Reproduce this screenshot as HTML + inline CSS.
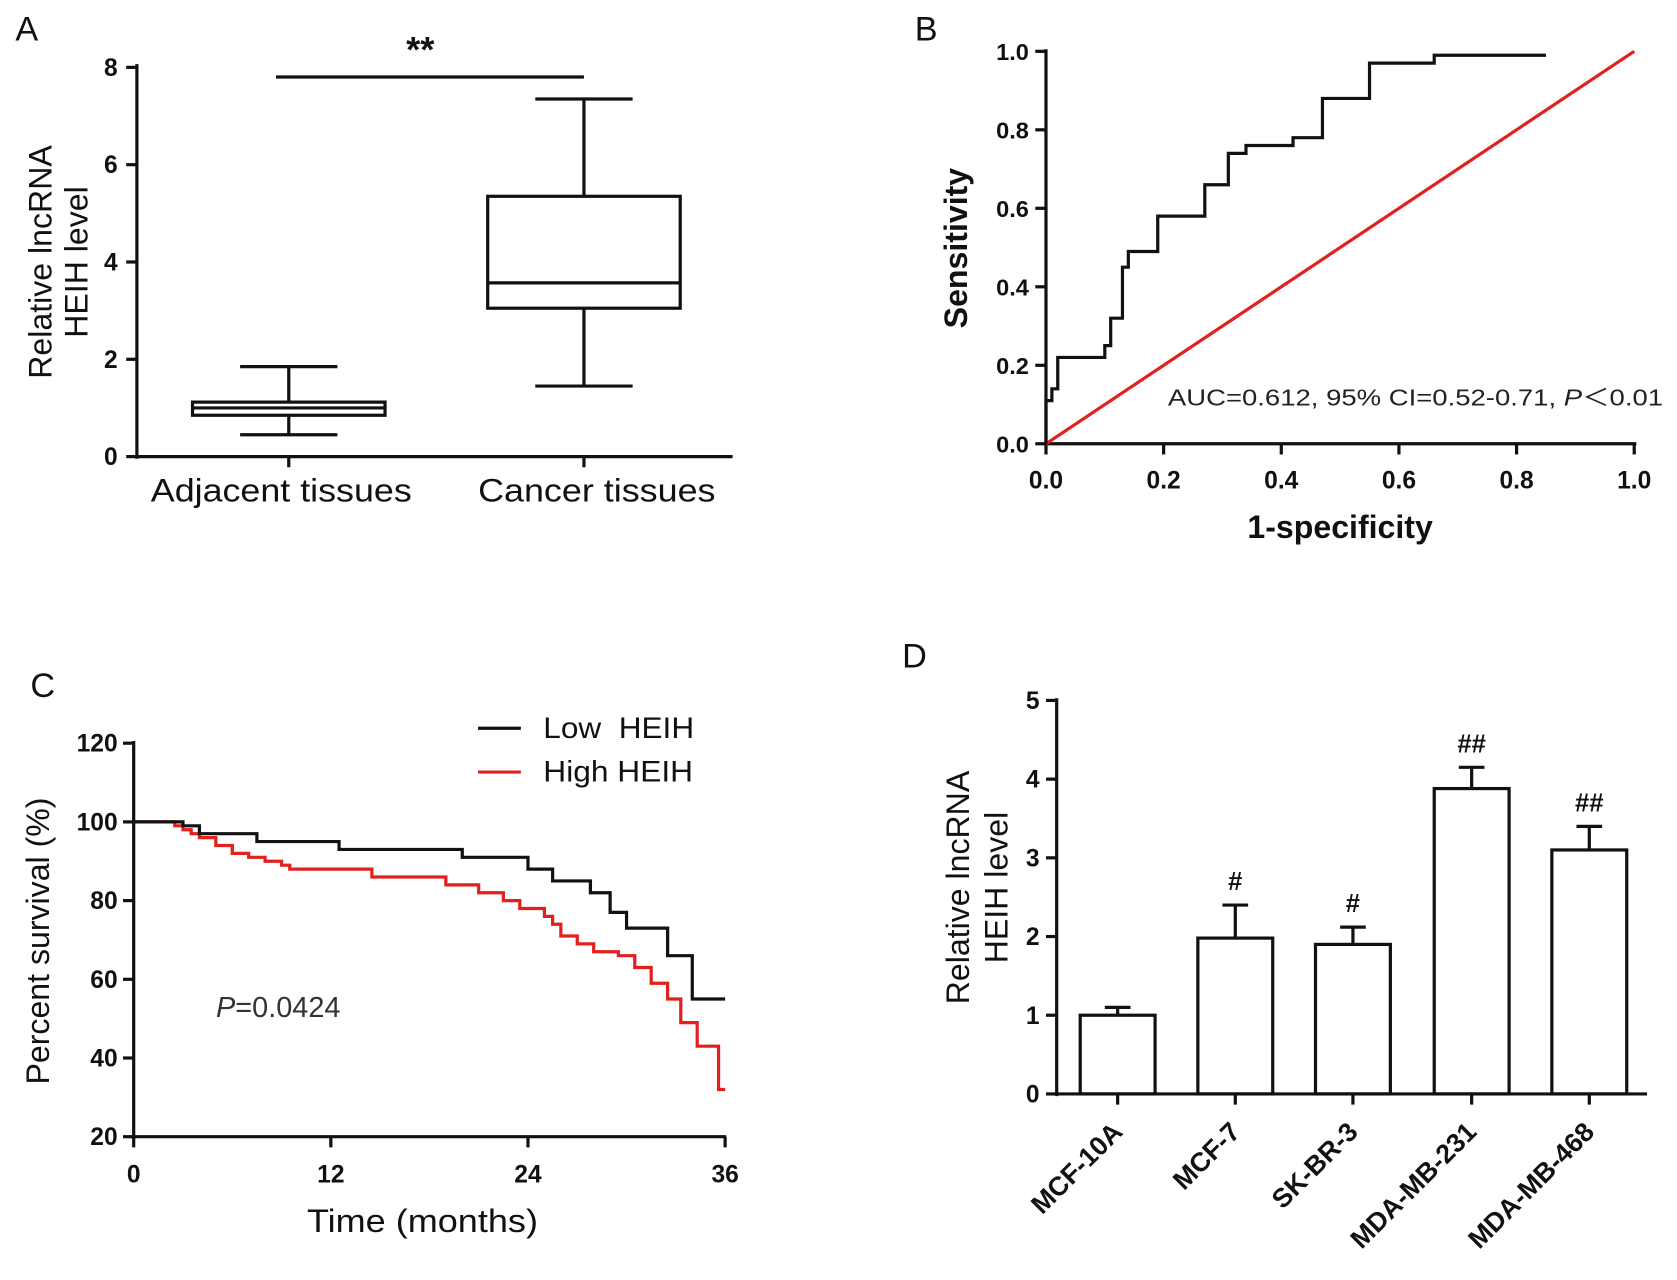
<!DOCTYPE html>
<html><head><meta charset="utf-8"><style>
html,body{margin:0;padding:0;background:#fff;}
svg{display:block;font-family:"Liberation Sans",Arial,sans-serif;}
</style></head><body>
<svg id="fig" width="1677" height="1280" viewBox="0 0 1568 1197" preserveAspectRatio="none" xmlns="http://www.w3.org/2000/svg">
<g id="A"></g>
<g id="B"></g>
<g id="C"></g>
<g id="D"></g>
</svg>
<script>
// Panel A data
const boxGroups = ["Adjacent tissues","Cancer tissues"];
const boxMin = [0.45, 1.45];
const boxQ1 = [0.85, 3.05];
const boxMed = [1.0, 3.57];
const boxQ3 = [1.12, 5.35];
const boxMax = [1.85, 7.35];
const aTicks = [0,2,4,6,8];
// Panel B data
const rocFpr = [0,0,0.01,0.01,0.02,0.02,0.10,0.10,0.11,0.11,0.13,0.13,0.14,0.14,0.19,0.19,0.27,0.27,0.31,0.31,0.34,0.34,0.42,0.42,0.47,0.47,0.55,0.55,0.66,0.66,0.85];
const rocTpr = [0,0.11,0.11,0.14,0.14,0.22,0.22,0.25,0.25,0.32,0.32,0.45,0.45,0.49,0.49,0.58,0.58,0.66,0.66,0.74,0.74,0.76,0.76,0.78,0.78,0.88,0.88,0.97,0.97,0.99,0.99];
const bTicks = [0,0.2,0.4,0.6,0.8,1.0];
// Panel C data
const lowT = [0,3,4,7.5,12.5,20,24,25.5,27.8,29,30,32.5,34];
const lowS = [100,99,97,95,93,91,88,85,82,77,73,66,55];
const highT = [0,2.5,3,3.5,4,5,6,7,8,9,9.5,14.5,19,21,22.5,23.5,25,25.5,26,27,28,29.5,30.5,31.5,32.5,33.3,34.3,35.6];
const highS = [100,99,98,97,96,94,92,91,90,89,88,86,84,82,80,78,76,74,71,69,67,66,63,59,55,49,43,32];
const cXTicks = [0,12,24,36];
const cYTicks = [20,40,60,80,100,120];
// Panel D data
const cellLines = ["MCF-10A","MCF-7","SK-BR-3","MDA-MB-231","MDA-MB-468"];
const barVals = [1.0,1.98,1.9,3.88,3.1];
const barErr = [0.1,0.42,0.22,0.27,0.3];
const barSig = ["","#","#","##","##"];
const dTicks = [0,1,2,3,4,5];

const NS="http://www.w3.org/2000/svg";
function mk(parent,tag,attrs,text){const e=document.createElementNS(NS,tag);for(const k in attrs)e.setAttribute(k,attrs[k]);if(text!==undefined)e.textContent=text;parent.appendChild(e);return e;}
function line(p,x1,y1,x2,y2,c,w){return mk(p,'line',{x1,y1,x2,y2,stroke:c||'#111','stroke-width':w||3});}
function txt(p,x,y,s,size,anchor,weight,extra){return mk(p,'text',Object.assign({x,y,'font-size':size,'text-anchor':anchor||'middle','font-weight':weight||'normal',fill:'#111'},extra||{}),s);}

// ---------- Panel A ----------
(function(){
const g=document.getElementById('A');
const y=v=>427-v*45.5; const xc=[270,546]; const bw=180, cw=91;
let l=txt(g,25,38,'A',32,'middle');  
line(g,128,60,128,429); line(g,126,427,685,427);
aTicks.forEach(v=>{line(g,118,y(v),128,y(v));const t=txt(g,110,y(v)+8,String(v),23,'end','bold');});
const lx=[263,558];
xc.forEach((x,i)=>{line(g,x,427,x,437);const t=txt(g,lx[i],469,boxGroups[i],30,'middle','normal',{'textLength':i?222:244,'lengthAdjust':'spacingAndGlyphs'});});
const yt=mk(g,'text',{transform:'translate(48,245) rotate(-90)','font-size':30,'text-anchor':'middle',fill:'#111'});
mk(yt,'tspan',{x:0,dy:0},'Relative lncRNA');mk(yt,'tspan',{x:0,dy:34},'HEIH level');

boxGroups.forEach((n,i)=>{const b=mk(g,'g',{});
const x=xc[i];
line(b,x,y(boxMax[i]),x,y(boxQ3[i]));line(b,x,y(boxQ1[i]),x,y(boxMin[i]));
line(b,x-cw/2,y(boxMax[i]),x+cw/2,y(boxMax[i]));line(b,x-cw/2,y(boxMin[i]),x+cw/2,y(boxMin[i]));
mk(b,'rect',{x:x-bw/2,y:y(boxQ3[i]),width:bw,height:y(boxQ1[i])-y(boxQ3[i]),fill:'none',stroke:'#111','stroke-width':3});
line(b,x-bw/2,y(boxMed[i]),x+bw/2,y(boxMed[i]));});
const s=mk(g,'g',{});
line(s,258,72,546,72);txt(s,393,58,'**',34,'middle','bold');
})();

// ---------- Panel B ----------
(function(){
const g=document.getElementById('B');
const x=v=>978+v*550, y=v=>415-v*367;
let l=txt(g,866,38,'B',32,'middle');
line(g,978,46,978,417);line(g,976,415,1530,415);
bTicks.forEach(v=>{line(g,968,y(v),978,y(v));let t=txt(g,962,y(v)+8,v.toFixed(1),22,'end','bold');
line(g,x(v),415,x(v),425);t=txt(g,x(v),457,v.toFixed(1),23,'middle','bold');});
let t=txt(g,1253,503,'1-specificity',30,'middle','bold');
t=txt(g,0,0,'Sensitivity',30,'middle','bold',{transform:'translate(904,232) rotate(-90)'});
const ref=line(g,x(0),y(0),x(1),y(1),'#e0211d',3);
const pts=rocFpr.map((f,i)=>x(f)+','+y(rocTpr[i])).join(' ');
const roc=mk(g,'polyline',{points:pts,fill:'none',stroke:'#111','stroke-width':3});
t=mk(g,'text',{x:1092,y:379,'font-size':22,fill:'#222',textLength:463,lengthAdjust:'spacingAndGlyphs'});mk(t,'tspan',{},'AUC=0.612, 95% CI=0.52-0.71, ');mk(t,'tspan',{'font-style':'italic'},'P');mk(t,'tspan',{},'\uFF1C0.01');

})();

// ---------- Panel C ----------
(function(){
const g=document.getElementById('C');
const x=v=>125+v*(553/36), y=v=>1063-(v-20)*3.68;
let l=txt(g,40,652,'C',32,'middle');
line(g,125,693,125,1065);line(g,123,1063,679,1063);
cYTicks.forEach(v=>{line(g,115,y(v),125,y(v));const t=txt(g,110,y(v)+8,String(v),23,'end','bold');});
cXTicks.forEach(v=>{line(g,x(v),1063,x(v),1073);const t=txt(g,x(v),1106,String(v),23,'middle','bold');});
let t=txt(g,395,1152,'Time (months)',30,'middle','normal',{textLength:216,lengthAdjust:'spacingAndGlyphs'});
t=txt(g,0,0,'Percent survival (%)',30,'middle','normal',{transform:'translate(46,880) rotate(-90)'});
function steps(T,S,end){let p=[];for(let i=0;i<T.length;i++){if(i>0)p.push(x(T[i])+','+y(S[i-1]));p.push(x(T[i])+','+y(S[i]));}p.push(x(end)+','+y(S[S.length-1]));return p.join(' ');}
const hi=mk(g,'polyline',{points:steps(highT,highS,36),fill:'none',stroke:'#e0211d','stroke-width':3});

const lo=mk(g,'polyline',{points:steps(lowT,lowS,36),fill:'none',stroke:'#111','stroke-width':3});
const lg=mk(g,'g',{});
line(lg,447,681,487,681,'#111',3);txt(lg,508,690,'Low\u00A0\u00A0HEIH',28,'start','normal',{textLength:141,lengthAdjust:'spacingAndGlyphs'});
line(lg,447,722,487,722,'#e0211d',3);txt(lg,508,731,'High HEIH',28,'start','normal',{textLength:140,lengthAdjust:'spacingAndGlyphs'});
t=mk(g,'text',{x:202,y:951,'font-size':27,fill:'#333'});mk(t,'tspan',{'font-style':'italic'},'P');mk(t,'tspan',{},'=0.0424');

})();

// ---------- Panel D ----------
(function(){
const g=document.getElementById('D');
const y=v=>1023-v*73.6; const xc=[1045,1155,1265,1376,1486]; const bw=70;
let l=txt(g,855,624,'D',32,'middle');
dTicks.forEach(v=>{line(g,978,y(v),988,y(v));const t=txt(g,972,y(v)+8,String(v),23,'end','bold');});
const yt=mk(g,'text',{transform:'translate(906,830) rotate(-90)','font-size':30,'text-anchor':'middle',fill:'#111'});
mk(yt,'tspan',{x:0,dy:0},'Relative lncRNA');mk(yt,'tspan',{x:0,dy:36},'HEIH level');

cellLines.forEach((n,i)=>{const b=mk(g,'g',{});
const x=xc[i];
line(b,x,y(barVals[i]),x,y(barVals[i]+barErr[i]));line(b,x-12,y(barVals[i]+barErr[i]),x+12,y(barVals[i]+barErr[i]));
mk(b,'rect',{x:x-bw/2,y:y(barVals[i]),width:bw,height:y(0)-y(barVals[i]),fill:'#fff',stroke:'#111','stroke-width':3});
if(barSig[i])txt(b,x,y(barVals[i]+barErr[i])-14,barSig[i],24,'middle','bold');
line(g,x,1023,x,1033);
const t=txt(g,0,0,n,25,'end','bold',{transform:'translate('+(x+6)+',1060) rotate(-45)'});});
line(g,988,653,988,1025);line(g,986,1023,1540,1023);
})();
</script>
</body></html>
